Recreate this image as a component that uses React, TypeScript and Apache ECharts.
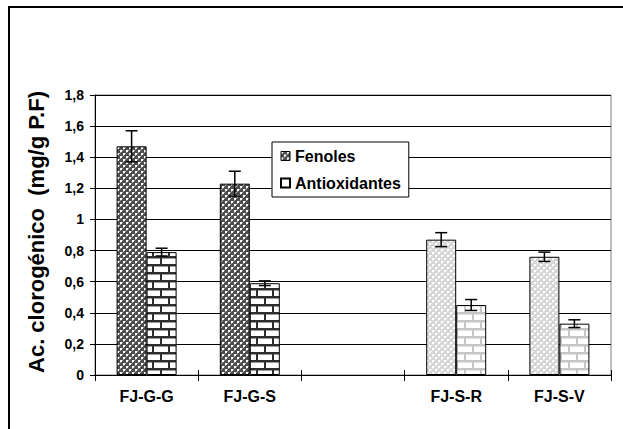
import React, { useEffect, useRef } from "react";
import * as echarts from "echarts";

const categories = ["FJ-G-G", "FJ-G-S", "", "FJ-S-R", "FJ-S-V"];
const fenoles = [1.47, 1.23, null, 0.87, 0.76];
const fenolesErr = [0.1, 0.08, null, 0.045, 0.03];
const antioxidantes = [0.79, 0.59, null, 0.45, 0.33];
const antioxidantesErr = [0.025, 0.015, null, 0.035, 0.025];
const lightIdx = [3, 4];
const yTicks = [0, 0.2, 0.4, 0.6, 0.8, 1, 1.2, 1.4, 1.6, 1.8];

const FONT = "Arial, 'Liberation Sans', Helvetica, sans-serif";

function makeChecker(base: string, dot: string, mid: string) {
  const c = document.createElement("canvas");
  c.width = 6;
  c.height = 6;
  const g = c.getContext("2d")!;
  g.fillStyle = base;
  g.fillRect(0, 0, 6, 6);
  g.fillStyle = mid;
  g.fillRect(2, 0, 1, 1);
  g.fillRect(0, 2, 1, 1);
  g.fillRect(5, 3, 1, 1);
  g.fillRect(3, 5, 1, 1);
  g.fillStyle = dot;
  g.fillRect(0, 0, 2, 2);
  g.fillRect(3, 3, 2, 2);
  return c;
}

function makeBrick(mortar: string, shade: string) {
  const c = document.createElement("canvas");
  c.width = 16;
  c.height = 16;
  const g = c.getContext("2d")!;
  g.fillStyle = "#ffffff";
  g.fillRect(0, 0, 16, 16);
  g.fillStyle = shade;
  g.fillRect(0, 2, 16, 1);
  g.fillRect(0, 10, 16, 1);
  g.fillStyle = mortar;
  g.fillRect(0, 0, 16, 2);
  g.fillRect(0, 8, 16, 2);
  g.fillRect(0, 2, 2, 6);
  g.fillRect(8, 10, 2, 6);
  return c;
}

export default function App() {
  const ref = useRef<HTMLDivElement>(null);
  useEffect(() => {
    if (!ref.current) return;
    const chart = echarts.init(ref.current, null, { renderer: "svg" });
    const pat = (c: HTMLCanvasElement) => ({ image: c, repeat: "repeat", imageWidth: c.width, imageHeight: c.height });
    const darkChecker = pat(makeChecker("#4e4e4e", "#ffffff", "#a8a8a8"));
    const lightChecker = pat(makeChecker("#d6d6d6", "#ffffff", "#ebebeb"));
    const darkBrick = pat(makeBrick("#2e2e2e", "#9a9a9a"));
    const lightBrick = pat(makeBrick("#c6c6c6", "#e4e4e4"));

    const mkBarData = (vals: (number | null)[], dark: any, light: any) =>
      vals.map((v, i) => ({
        value: v,
        itemStyle: { color: lightIdx.includes(i) ? light : dark },
      }));

    const errData = (vals: (number | null)[], errs: (number | null)[], side: number) =>
      vals
        .map((v, i) => (v == null || errs[i] == null ? null : [i, v - (errs[i] as number), v + (errs[i] as number), side]))
        .filter((d) => d !== null);

    const renderErr = (params: any, api: any) => {
      const idx = api.value(0);
      const lo = api.coord([idx, api.value(1)]);
      const hi = api.coord([idx, api.value(2)]);
      const side = api.value(3);
      const x = lo[0] + side * 15;
      const cap = 6;
      const style = { stroke: "#000", lineWidth: 1.5 };
      return {
        type: "group",
        children: [
          { type: "line", shape: { x1: x, y1: hi[1], x2: x, y2: lo[1] }, style },
          { type: "line", shape: { x1: x - cap, y1: hi[1], x2: x + cap, y2: hi[1] }, style },
          { type: "line", shape: { x1: x - cap, y1: lo[1], x2: x + cap, y2: lo[1] }, style },
        ],
      };
    };

    chart.setOption({
      animation: false,
      backgroundColor: "#ffffff",
      grid: {
        left: 95,
        right: 12,
        top: 95,
        bottom: 54,
        show: true,
        borderColor: "#808080",
        borderWidth: 1,
        backgroundColor: "transparent",
      },
      legend: {
        orient: "vertical",
        left: 272,
        top: 142,
        backgroundColor: "#ffffff",
        borderColor: "#000",
        borderWidth: 1,
        padding: [6, 8, 6, 8],
        itemWidth: 9,
        itemHeight: 9,
        itemGap: 11,
        textStyle: { fontFamily: FONT, fontWeight: "bold", fontSize: 16, color: "#000" },
        data: [
          { name: "Fenoles", icon: "rect", itemStyle: { color: darkChecker, borderColor: "#000", borderWidth: 1 } },
          { name: "Antioxidantes", icon: "rect", itemStyle: { color: "#fff", borderColor: "#000", borderWidth: 2 } },
        ],
      },
      graphic: [
        {
          type: "rect",
          shape: { x: 9, y: 7, width: 700, height: 500 },
          style: { fill: "none", stroke: "#000", lineWidth: 2 },
          z: 10,
        },
        {
          type: "text",
          x: 36,
          y: 232,
          rotation: Math.PI / 2,
          style: {
            text: "Ac. clorogénico  (mg/g P.F)",
            font: `bold 22px ${FONT}`,
            fill: "#000",
            align: "center",
            verticalAlign: "middle",
          },
        },
      ],
      xAxis: [
        {
          type: "category",
          data: categories,
          axisLine: { lineStyle: { color: "#000", width: 1 } },
          axisTick: { show: true, length: 6, lineStyle: { color: "#000" } },
          axisLabel: {
            margin: 13,
            fontFamily: FONT,
            fontWeight: "bold",
            fontSize: 16,
            color: "#000",
          },
          splitLine: { show: false },
        },
        {
          type: "category",
          data: categories,
          position: "bottom",
          axisLine: { show: false },
          axisTick: { show: true, inside: true, length: 5, lineStyle: { color: "#000" } },
          axisLabel: { show: false },
          splitLine: { show: false },
        },
      ],
      yAxis: {
        type: "value",
        min: 0,
        max: 1.8,
        interval: 0.2,
        axisLine: { show: true, lineStyle: { color: "#000", width: 1 } },
        axisTick: { show: true, length: 5, lineStyle: { color: "#000" } },
        axisLabel: {
          margin: 11,
          fontFamily: FONT,
          fontWeight: "bold",
          fontSize: 14,
          color: "#000",
          formatter: (v: number) => {
            const t = yTicks.find((y) => Math.abs(y - v) < 1e-6);
            return String(t ?? +v.toFixed(1)).replace(".", ",");
          },
        },
        splitLine: { show: true, lineStyle: { color: "#000", width: 1 } },
      },
      series: [
        {
          name: "Fenoles",
          type: "bar",
          barWidth: 30,
          barGap: "0%",
          itemStyle: { color: darkChecker, borderColor: "#000", borderWidth: 1 },
          data: mkBarData(fenoles, darkChecker, lightChecker),
        },
        {
          name: "Antioxidantes",
          type: "bar",
          barWidth: 30,
          barGap: "0%",
          itemStyle: { color: darkBrick, borderColor: "#000", borderWidth: 1 },
          data: mkBarData(antioxidantes, darkBrick, lightBrick),
        },
        {
          name: "errF",
          type: "custom",
          renderItem: renderErr,
          data: errData(fenoles, fenolesErr, -1),
          z: 5,
        },
        {
          name: "errA",
          type: "custom",
          renderItem: renderErr,
          data: errData(antioxidantes, antioxidantesErr, 1),
          z: 5,
        },
      ],
    });
    return () => chart.dispose();
  }, []);
  return (
    <div
      ref={ref}
      style={{ position: "fixed", left: 0, top: 0, width: 623, height: 429 }}
    />
  );
}
